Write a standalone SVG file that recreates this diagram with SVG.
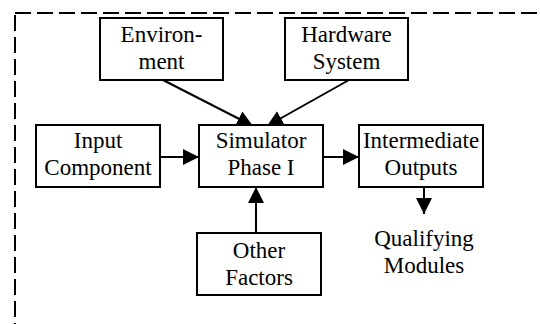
<svg xmlns="http://www.w3.org/2000/svg" width="540" height="324" viewBox="0 0 540 324">
<defs>
<style>
.box{fill:#fff;stroke:#000;stroke-width:2}
.t{font-size:23px;fill:#000;text-anchor:middle}
.e{stroke:#000;stroke-width:2;fill:none;marker-end:url(#ah)}
.frame{fill:none;stroke:#000;stroke-width:2;stroke-dasharray:16 6}
</style>
<marker id="ah" markerUnits="userSpaceOnUse" markerWidth="16" markerHeight="16" viewBox="0 0 14 14" refX="14" refY="7" orient="auto">
<path d="M0,0 L14,7 L0,14 Z" fill="#000"/>
</marker>
</defs>
<rect class="frame" x="15" y="13" width="560" height="340"/>
<g id="connectors">
<line class="e" x1="163" y1="80" x2="253" y2="126"/>
<line class="e" x1="349" y1="80" x2="267" y2="126"/>
<line class="e" x1="160" y1="157" x2="199" y2="157"/>
<line class="e" x1="323" y1="157" x2="359" y2="157"/>
<line class="e" x1="256" y1="233" x2="256" y2="187"/>
<line class="e" x1="424" y1="187" x2="424" y2="214"/>
</g>
<g font-family="Liberation Serif, Times New Roman, DejaVu Serif, serif">
<g id="environment">
<rect class="box" x="100" y="18" width="123" height="62"/>
<text class="t" x="161.5" y="42">Environ-</text>
<text class="t" x="161.5" y="69">ment</text>
</g>
<g id="hardware">
<rect class="box" x="285" y="18" width="123" height="62"/>
<text class="t" x="346.5" y="42">Hardware</text>
<text class="t" x="346.5" y="69">System</text>
</g>
<g id="input">
<rect class="box" x="36" y="125" width="124" height="62"/>
<text class="t" x="98" y="148">Input</text>
<text class="t" x="98" y="175">Component</text>
</g>
<g id="simulator">
<rect class="box" x="199" y="125" width="124" height="62"/>
<text class="t" x="261" y="148">Simulator</text>
<text class="t" x="261" y="175">Phase I</text>
</g>
<g id="intermediate">
<rect class="box" x="359" y="125" width="124" height="62"/>
<text class="t" x="421" y="148">Intermediate</text>
<text class="t" x="421" y="175">Outputs</text>
</g>
<g id="other">
<rect class="box" x="197" y="233" width="124" height="62"/>
<text class="t" x="259" y="258">Other</text>
<text class="t" x="259" y="285">Factors</text>
</g>
<g id="qualifying">
<text class="t" x="424" y="246">Qualifying</text>
<text class="t" x="424" y="273">Modules</text>
</g>
</g>
</svg>
